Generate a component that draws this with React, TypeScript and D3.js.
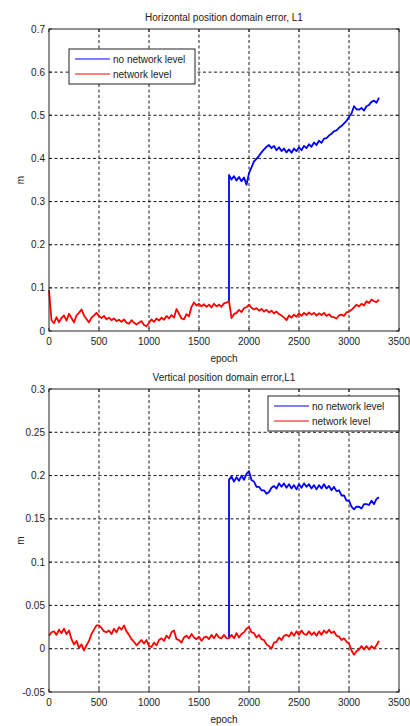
import React from 'react';
import * as d3 from 'd3';

// epochs sampled every 25 (0..3300)
const epochs = d3.range(0, 3301, 25);
// "no network level" starts at the jump epoch
const jumpEpochs = [1800, ...d3.range(1800, 3301, 25)];

const xTicks = [0, 500, 1000, 1500, 2000, 2500, 3000, 3500];
const hTicks = [0, 0.1, 0.2, 0.3, 0.4, 0.5, 0.6, 0.7];
const vTicks = [-0.05, 0, 0.05, 0.1, 0.15, 0.2, 0.25, 0.3];

const legendLabels = ['no network level', 'network level'];

// horizontal error, network level
const hNetwork = [
  0.095, 0.025, 0.018, 0.032, 0.020, 0.030, 0.036, 0.024,
  0.040, 0.030, 0.020, 0.036, 0.042, 0.050, 0.036, 0.028,
  0.020, 0.031, 0.036, 0.042, 0.034, 0.030, 0.035, 0.027,
  0.031, 0.025, 0.029, 0.023, 0.026, 0.021, 0.027, 0.019,
  0.017, 0.025, 0.019, 0.015, 0.019, 0.023, 0.014, 0.011,
  0.019, 0.027, 0.021, 0.029, 0.024, 0.031, 0.026, 0.035,
  0.029, 0.037, 0.031, 0.051, 0.040, 0.029, 0.027, 0.039,
  0.034, 0.056, 0.066, 0.059, 0.063, 0.057, 0.062, 0.056,
  0.061, 0.055, 0.063, 0.057, 0.061, 0.056, 0.064, 0.066,
  0.069, 0.030, 0.039, 0.042, 0.049, 0.044, 0.053, 0.055,
  0.061, 0.054, 0.050, 0.053, 0.047, 0.051, 0.045, 0.049,
  0.043, 0.047, 0.041, 0.045, 0.039, 0.036, 0.031, 0.025,
  0.036, 0.031, 0.038, 0.033, 0.041, 0.035, 0.042, 0.037,
  0.043, 0.038, 0.042, 0.036, 0.041, 0.037, 0.042, 0.035,
  0.039, 0.033, 0.032, 0.029, 0.036, 0.038, 0.035, 0.043,
  0.045, 0.049, 0.055, 0.061, 0.057, 0.063, 0.059, 0.069,
  0.065, 0.073, 0.069, 0.067, 0.073,
];

// horizontal error, no network level
const hNoNetwork = [
  0.069,
  0.362, 0.351, 0.359, 0.349, 0.357, 0.347, 0.356, 0.339,
  0.366, 0.379, 0.393, 0.399, 0.406, 0.414, 0.421, 0.427,
  0.431, 0.424, 0.429, 0.419, 0.426, 0.417, 0.423, 0.414,
  0.421, 0.413, 0.423, 0.417, 0.426, 0.419, 0.429, 0.424,
  0.433, 0.427, 0.437, 0.431, 0.441, 0.436, 0.446, 0.447,
  0.453, 0.457, 0.463, 0.465, 0.471, 0.475, 0.481, 0.487,
  0.496, 0.504, 0.521, 0.514, 0.513, 0.517, 0.511, 0.521,
  0.524, 0.531, 0.534, 0.529, 0.541,
];

// vertical error, network level
const vNetwork = [
  0.015, 0.019, 0.020, 0.016, 0.022, 0.018, 0.023, 0.017,
  0.021, 0.011, 0.005, 0.009, 0.001, 0.005, -0.002, 0.004,
  0.009, 0.017, 0.022, 0.027, 0.027, 0.024, 0.020, 0.019,
  0.021, 0.017, 0.023, 0.019, 0.025, 0.022, 0.027, 0.020,
  0.016, 0.011, 0.008, 0.004, 0.007, 0.010, 0.006, 0.010,
  0.003, 0.002, 0.007, 0.004, 0.010, 0.012, 0.009, 0.015,
  0.012, 0.019, 0.021, 0.011, 0.010, 0.007, 0.013, 0.015,
  0.012, 0.017, 0.013, 0.011, 0.014, 0.009, 0.013, 0.014,
  0.011, 0.016, 0.012, 0.017, 0.013, 0.012, 0.016, 0.012,
  0.012, 0.016, 0.012, 0.018, 0.013, 0.017, 0.019, 0.023,
  0.025, 0.019, 0.018, 0.013, 0.016, 0.011, 0.010, 0.005,
  0.003, 0.000, 0.007, 0.008, 0.013, 0.010, 0.015, 0.016,
  0.014, 0.019, 0.015, 0.020, 0.016, 0.021, 0.017, 0.016,
  0.020, 0.016, 0.019, 0.015, 0.020, 0.016, 0.021, 0.018,
  0.022, 0.018, 0.020, 0.015, 0.014, 0.010, 0.012, 0.008,
  0.006, -0.002, -0.007, -0.003, -0.001, 0.003, -0.001, 0.003,
  -0.001, 0.003, 0.000, 0.004, 0.009,
];

// vertical error, no network level
const vNoNetwork = [
  0.012,
  0.195, 0.199, 0.193, 0.198, 0.194, 0.200, 0.195, 0.202,
  0.205, 0.195, 0.193, 0.187, 0.187, 0.183, 0.183, 0.179,
  0.181, 0.186, 0.188, 0.185, 0.191, 0.187, 0.191, 0.186,
  0.190, 0.185, 0.189, 0.184, 0.190, 0.186, 0.191, 0.187,
  0.190, 0.185, 0.189, 0.184, 0.189, 0.185, 0.190, 0.185,
  0.188, 0.183, 0.187, 0.182, 0.183, 0.177, 0.177, 0.171,
  0.171, 0.164, 0.161, 0.164, 0.164, 0.162, 0.167, 0.167,
  0.166, 0.171, 0.167, 0.173, 0.175,
];

const FONT = 'Arial, "Liberation Sans", sans-serif';
const TXT = '#222';

type PanelProps = {
  title: string;
  top: number;
  bottom: number;
  yDomain: [number, number];
  yTicks: number[];
  network: number[];
  noNetwork: number[];
  legend: { x: number; y: number; w: number };
};

function Panel({ title, top, bottom, yDomain, yTicks, network, noNetwork, legend }: PanelProps) {
  const left = 49;
  const right = 399;
  const x = d3.scaleLinear().domain([0, 3500]).range([left, right]);
  const y = d3.scaleLinear().domain(yDomain).range([bottom, top]);

  const line = d3.line<[number, number]>()
    .x((d) => x(d[0]))
    .y((d) => y(d[1]));

  const redPts = epochs.map((e, i) => [e, network[i]] as [number, number]);
  const bluePts = jumpEpochs.map((e, i) => [e, noNetwork[i]] as [number, number]);

  const fmt = (v: number) => String(+v.toFixed(2));

  return (
    <g fontFamily={FONT} fontSize={10} fill={TXT}>
      <text x={(left + right) / 2} y={top - 8} textAnchor="middle">{title}</text>

      {/* grid */}
      {xTicks.slice(1, -1).map((t) => (
        <line key={'gx' + t} x1={x(t)} x2={x(t)} y1={top} y2={bottom}
          stroke="#000" strokeWidth={0.9} strokeDasharray="3,2.5" />
      ))}
      {yTicks.slice(1, -1).map((t) => (
        <line key={'gy' + t} x1={left} x2={right} y1={y(t)} y2={y(t)}
          stroke="#000" strokeWidth={0.9} strokeDasharray="3,2.5" />
      ))}

      {/* data */}
      <path d={line(bluePts) || ''} fill="none" stroke="#0000ff" strokeWidth={1.8} strokeLinejoin="round" />
      <path d={line(redPts) || ''} fill="none" stroke="#ff0000" strokeWidth={1.8} strokeLinejoin="round" />

      {/* box */}
      <rect x={left} y={top} width={right - left} height={bottom - top}
        fill="none" stroke="#222" strokeWidth={1} />

      {/* ticks */}
      {xTicks.map((t) => (
        <g key={'tx' + t}>
          <line x1={x(t)} x2={x(t)} y1={bottom} y2={bottom - 3} stroke="#222" />
          <line x1={x(t)} x2={x(t)} y1={top} y2={top + 3} stroke="#222" />
          <text x={x(t)} y={bottom + 14} textAnchor="middle">{t}</text>
        </g>
      ))}
      {yTicks.map((t) => (
        <g key={'ty' + t}>
          <line x1={left} x2={left + 3} y1={y(t)} y2={y(t)} stroke="#222" />
          <line x1={right} x2={right - 3} y1={y(t)} y2={y(t)} stroke="#222" />
          <text x={left - 4} y={y(t) + 3.5} textAnchor="end">{fmt(t)}</text>
        </g>
      ))}

      <text x={(left + right) / 2} y={bottom + 31} textAnchor="middle">epoch</text>
      <text transform={`translate(24,${(top + bottom) / 2}) rotate(-90)`} textAnchor="middle">m</text>

      {/* legend */}
      <rect x={legend.x} y={legend.y} width={legend.w} height={35}
        fill="#fff" stroke="#222" strokeWidth={1} />
      {legendLabels.map((lab, i) => (
        <g key={lab}>
          <line x1={legend.x + 6} x2={legend.x + 41} y1={legend.y + 10 + i * 15} y2={legend.y + 10 + i * 15}
            stroke={i === 0 ? '#0000ff' : '#ff0000'} strokeWidth={1.2} />
          <text x={legend.x + 44} y={legend.y + 13.5 + i * 15}>{lab}</text>
        </g>
      ))}
    </g>
  );
}

export default function App() {
  return (
    <div style={{ position: 'absolute', left: 0, top: 0 }}>
      <svg width={410} height={726} style={{ display: 'block', background: '#fff' }}>
        <Panel
          title="Horizontal position domain error, L1"
          top={29}
          bottom={331}
          yDomain={[0, 0.7]}
          yTicks={hTicks}
          network={hNetwork}
          noNetwork={hNoNetwork}
          legend={{ x: 69, y: 49, w: 126 }}
        />
        <Panel
          title="Vertical position domain error,L1"
          top={389}
          bottom={692}
          yDomain={[-0.05, 0.3]}
          yTicks={vTicks}
          network={vNetwork}
          noNetwork={vNoNetwork}
          legend={{ x: 268, y: 396, w: 131 }}
        />
      </svg>
    </div>
  );
}
